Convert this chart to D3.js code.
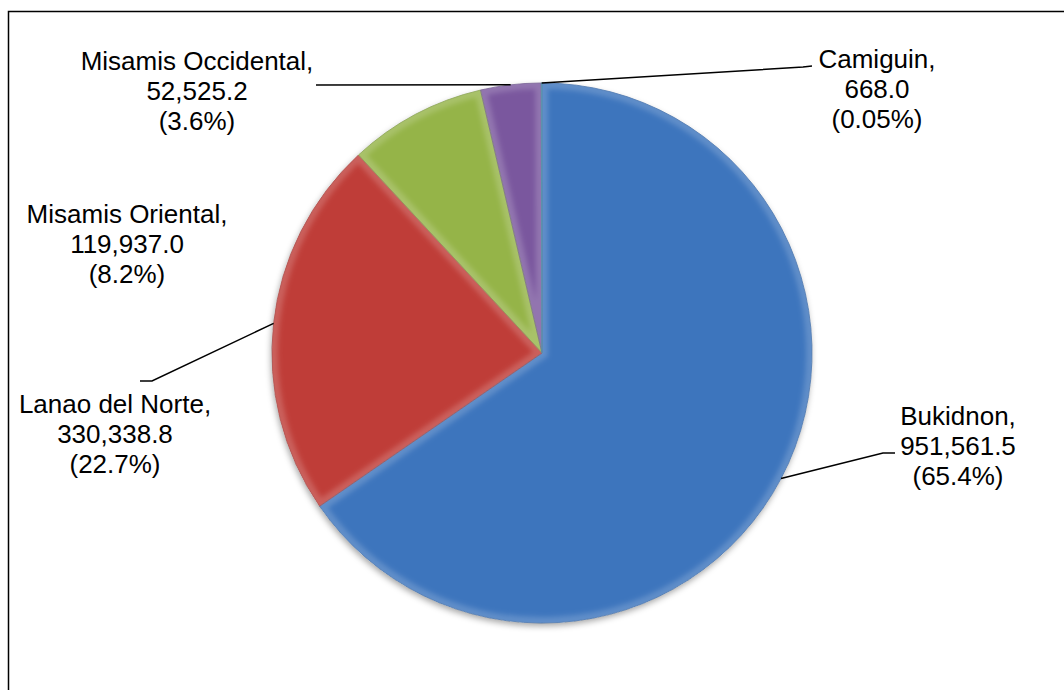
<!DOCTYPE html>
<html>
<head>
<meta charset="utf-8">
<script src="https://cdn.jsdelivr.net/npm/d3@7"></script>
<style>
  html, body { margin: 0; padding: 0; background: #fff; overflow: hidden; }
  text { font-family: "Liberation Sans", Arial, sans-serif; }
</style>
</head>
<body>
<main></main>
<script>
// data
const names = ['Bukidnon', 'Lanao del Norte', 'Misamis Oriental', 'Misamis Occidental', 'Camiguin'];
const values = [951561.5, 330338.8, 119937.0, 52525.2, 668.0];
const pctLabels = ['(65.4%)', '(22.7%)', '(8.2%)', '(3.6%)', '(0.05%)'];

// layout
const width = 1064;
const height = 690;
const cx = 542;
const cy = 353;
const radius = 270;
const colors = ['#4585d6', '#d8453f', '#a9cc52', '#8a63b3', '#4bacc6'];
const edgeColors = ['#2f5f9e', '#9a2f2c', '#76933a', '#5f4780', '#31859c'];
const lineHeight = 30;
// label anchor (centre x, first baseline) and leader bend points, by slice
const labelLayout = [
  { x: 958, y: 425, lead: [[883, 453], [895, 453]] },
  { x: 115, y: 413, lead: [[152, 381], [140, 381]] },
  { x: 127, y: 223, lead: null },
  { x: 197, y: 70, lead: [[316, 85]] },
  { x: 877, y: 68, lead: [[803, 67], [812, 66]] }
];

const fmt = d3.format(',.1f');

const svg = d3.select('main')
  .append('svg')
  .attr('width', width)
  .attr('height', height);

const defs = svg.append('defs');

// soft shadow under the pie
const shadow = defs.append('filter').attr('id', 'shadow')
  .attr('x', '-10%').attr('y', '-10%').attr('width', '120%').attr('height', '120%');
shadow.append('feDropShadow')
  .attr('dx', -1).attr('dy', 3).attr('stdDeviation', 3)
  .attr('flood-color', '#000').attr('flood-opacity', 0.35);

const blur = defs.append('filter').attr('id', 'blur');
blur.append('feGaussianBlur').attr('stdDeviation', 2.5);

// chart frame
svg.append('rect')
  .attr('x', 8.5).attr('y', 11.5)
  .attr('width', 1200).attr('height', 800)
  .attr('fill', 'none')
  .attr('stroke', '#000')
  .attr('stroke-width', 1.5);

const pie = d3.pie().sort(null).value(d => d);
const arcs = pie(values);
const arc = d3.arc().innerRadius(0).outerRadius(radius);

// gradients per slice
colors.forEach((c, i) => {
  const g = defs.append('radialGradient')
    .attr('id', 'grad' + i)
    .attr('gradientUnits', 'userSpaceOnUse')
    .attr('cx', cx).attr('cy', cy).attr('r', radius);
  const base = d3.color(c);
  g.append('stop').attr('offset', '0%').attr('stop-color', base);
  g.append('stop').attr('offset', '90%').attr('stop-color', base);
  g.append('stop').attr('offset', '96%').attr('stop-color', base.brighter(0.25));
  g.append('stop').attr('offset', '100%').attr('stop-color', base.darker(0.35));

  defs.append('clipPath').attr('id', 'clip' + i)
    .append('path')
    .attr('transform', `translate(${cx},${cy})`)
    .attr('d', arc(arcs[i]));
});

const pieG = svg.append('g').attr('transform', `translate(${cx},${cy})`);

pieG.append('circle')
  .attr('r', radius)
  .attr('fill', '#fff')
  .attr('filter', 'url(#shadow)');

const slices = pieG.selectAll('g.slice')
  .data(arcs)
  .enter()
  .append('g')
  .attr('class', 'slice');

slices.append('path')
  .attr('d', arc)
  .attr('fill', (d, i) => `url(#grad${i})`);

// bevel-like inner highlight along slice edges
svg.selectAll('g.bevel')
  .data(arcs)
  .enter()
  .append('g')
  .attr('class', 'bevel')
  .attr('clip-path', (d, i) => `url(#clip${i})`)
  .append('path')
  .attr('transform', `translate(${cx},${cy})`)
  .attr('d', arc)
  .attr('fill', 'none')
  .attr('stroke', '#fff')
  .attr('stroke-opacity', 0.18)
  .attr('stroke-width', 12)
  .attr('filter', 'url(#blur)');

pieG.selectAll('path.edge')
  .data(arcs)
  .enter()
  .append('path')
  .attr('class', 'edge')
  .attr('d', arc)
  .attr('fill', 'none')
  .attr('stroke', (d, i) => edgeColors[i])
  .attr('stroke-opacity', 0.7)
  .attr('stroke-width', 1);

// leader lines from the middle of each slice's arc
const arcPoint = a => [cx + radius * Math.sin(a), cy - radius * Math.cos(a)];

svg.selectAll('path.leader')
  .data(arcs.filter((d, i) => labelLayout[i].lead))
  .enter()
  .append('path')
  .attr('class', 'leader')
  .attr('d', d => {
    const pts = [arcPoint((d.startAngle + d.endAngle) / 2)].concat(labelLayout[d.index].lead);
    return d3.line()(pts);
  })
  .attr('fill', 'none')
  .attr('stroke', '#000')
  .attr('stroke-width', 1.5);

// labels
const labels = svg.selectAll('text.label')
  .data(arcs)
  .enter()
  .append('text')
  .attr('class', 'label')
  .attr('text-anchor', 'middle')
  .attr('font-size', 26)
  .attr('fill', '#000');

labels.each(function (d) {
  const i = d.index;
  const lay = labelLayout[i];
  const lines = [names[i] + ',', fmt(values[i]), pctLabels[i]];
  d3.select(this).selectAll('tspan')
    .data(lines)
    .enter()
    .append('tspan')
    .attr('x', lay.x)
    .attr('y', (l, k) => lay.y + k * lineHeight)
    .text(l => l);
});
</script>
</body>
</html>
